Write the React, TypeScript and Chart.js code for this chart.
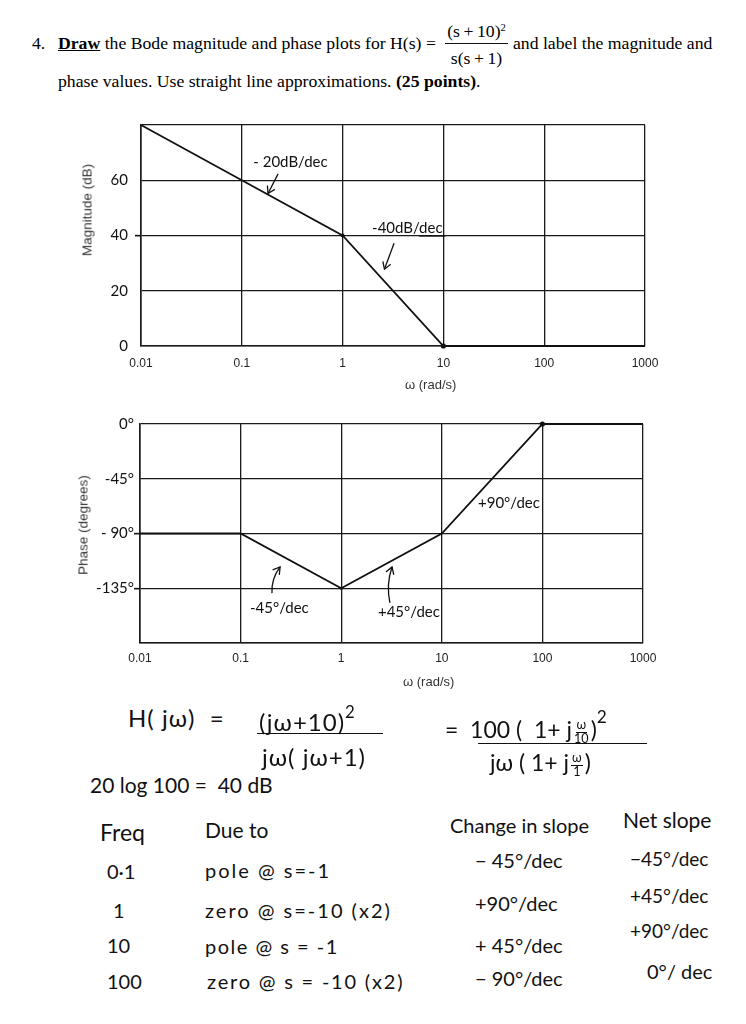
import React, { useEffect, useRef } from 'react';
import { Chart, registerables } from 'chart.js';

Chart.register(...registerables);

// ---- data ----
const freqTicks = [0.01, 0.1, 1, 10, 100, 1000];
const freqTickLabels = ['0.01', '0.1', '1', '10', '100', '1000'];

const magFreq = [0.01, 0.1, 1, 10, 1000];
const magDb = [80, 60, 40, 0, 0];
const magPointRadius = [0, 0, 2, 2.6, 0];
const magTicks = [0, 20, 40, 60, 80];
const magTickLabels = ['0', '20', '40', '60', ''];
const magStubs = [40];

const phaseFreq = [0.01, 0.1, 1, 10, 100, 1000];
const phaseDeg = [-90, -90, -135, -90, 0, 0];
const phasePointRadius = [0, 0, 1.6, 0, 2.6, 0];
const phaseTicks = [-180, -135, -90, -45, 0];
const phaseTickLabels = ['', '-135°', '- 90°', '-45°', '0°'];
const phaseStubs = [-90, -135];

const HW = "'Lato', 'Noto Sans', sans-serif";
const SERIF = "'Liberation Serif', 'Times New Roman', serif";
const SANS = "'Liberation Sans', Arial, sans-serif";
const INK = '#111';

type Note = { text: string; x: number; y: number; underlineLast?: string };
type Arrow = { from: [number, number]; to: [number, number]; bend?: number };

function makeNotesPlugin(notes: Note[], arrows: Arrow[]) {
  return {
    id: 'notes',
    afterDatasetsDraw(chart: any) {
      const { ctx, scales } = chart;
      const x = scales.x;
      const y = scales.y;
      ctx.save();
      ctx.fillStyle = INK;
      ctx.strokeStyle = INK;
      ctx.font = `15px ${HW}`;
      ctx.textBaseline = 'middle';
      ctx.textAlign = 'left';
      ctx.lineWidth = 1.2;
      for (const n of notes) {
        const px = x.getPixelForValue(n.x);
        const py = y.getPixelForValue(n.y);
        ctx.fillText(n.text, px, py);
        if (n.underlineLast) {
          const full = ctx.measureText(n.text).width;
          const part = ctx.measureText(n.underlineLast).width;
          ctx.beginPath();
          ctx.moveTo(px + full - part, py + 8);
          ctx.lineTo(px + full + 3, py + 8);
          ctx.stroke();
        }
      }
      ctx.lineWidth = 1.3;
      for (const a of arrows) {
        const x0 = x.getPixelForValue(a.from[0]);
        const y0 = y.getPixelForValue(a.from[1]);
        const x1 = x.getPixelForValue(a.to[0]);
        const y1 = y.getPixelForValue(a.to[1]);
        const dx = x1 - x0;
        const dy = y1 - y0;
        const len = Math.hypot(dx, dy) || 1;
        const b = a.bend || 0;
        const cx = (x0 + x1) / 2 - (dy / len) * b;
        const cy = (y0 + y1) / 2 + (dx / len) * b;
        ctx.beginPath();
        ctx.moveTo(x0, y0);
        ctx.quadraticCurveTo(cx, cy, x1, y1);
        ctx.stroke();
        const ang = Math.atan2(y1 - cy, x1 - cx);
        const h = 8;
        ctx.beginPath();
        ctx.moveTo(x1 - h * Math.cos(ang - 0.55), y1 - h * Math.sin(ang - 0.55));
        ctx.lineTo(x1, y1);
        ctx.lineTo(x1 - h * Math.cos(ang + 0.55), y1 - h * Math.sin(ang + 0.55));
        ctx.stroke();
      }
      ctx.restore();
    },
  };
}

type BodeProps = {
  top: number;
  height: number;
  padTop: number;
  padRight: number;
  yWidth: number;
  xHeight: number;
  xPad: number;
  yPad: number;
  freq: number[];
  vals: number[];
  radii: number[];
  yMin: number;
  yMax: number;
  yTicks: number[];
  yTickLabels: string[];
  stubs: number[];
  notes: Note[];
  arrows: Arrow[];
};

function BodeChart(p: BodeProps) {
  const ref = useRef<HTMLCanvasElement | null>(null);
  useEffect(() => {
    if (!ref.current) return;
    const chart = new Chart(ref.current, {
      type: 'line',
      data: {
        datasets: [
          {
            data: p.freq.map((f, i) => ({ x: f, y: p.vals[i] })),
            borderColor: INK,
            borderWidth: 1.8,
            pointRadius: p.radii,
            pointBackgroundColor: INK,
            pointBorderWidth: 0,
            tension: 0,
            clip: false as any,
          },
        ],
      },
      options: {
        animation: false,
        responsive: false,
        devicePixelRatio: 1,
        layout: { padding: { top: p.padTop, right: p.padRight, left: 0, bottom: 0 } },
        plugins: {
          legend: { display: false },
          tooltip: { enabled: false },
        },
        scales: {
          x: {
            type: 'logarithmic',
            min: 0.01,
            max: 1000,
            afterBuildTicks: (scale: any) => {
              scale.ticks = freqTicks.map((v) => ({ value: v }));
            },
            afterFit: (scale: any) => {
              scale.height = p.xHeight;
            },
            ticks: {
              autoSkip: false,
              maxRotation: 0,
              padding: p.xPad,
              color: '#222',
              font: { family: SANS, size: 12 },
              callback: (_v: any, i: number) => freqTickLabels[i],
            },
            grid: { color: '#1a1a1a', lineWidth: 1.3, drawTicks: false },
            border: { display: true, color: '#1a1a1a', width: 1.6 },
          },
          y: {
            type: 'linear',
            min: p.yMin,
            max: p.yMax,
            afterBuildTicks: (scale: any) => {
              scale.ticks = p.yTicks.map((v) => ({ value: v }));
            },
            afterFit: (scale: any) => {
              scale.width = p.yWidth;
            },
            ticks: {
              padding: p.yPad,
              color: INK,
              font: { family: HW, size: 15 },
              callback: (_v: any, i: number) => p.yTickLabels[i],
            },
            grid: {
              color: '#1a1a1a',
              lineWidth: 1.3,
              drawTicks: true,
              tickLength: 6,
              tickWidth: 1.6,
              tickColor: (ctx: any) =>
                ctx.tick && p.stubs.includes(ctx.tick.value) ? INK : 'rgba(0,0,0,0)',
            },
            border: { display: true, color: '#1a1a1a', width: 1.6 },
          },
        },
      } as any,
      plugins: [makeNotesPlugin(p.notes, p.arrows)],
    });
    return () => chart.destroy();
  }, []);
  return (
    <canvas
      ref={ref}
      width={746}
      height={p.height}
      style={{ position: 'absolute', left: 0, top: p.top, width: 746, height: p.height }}
    />
  );
}

function Serif({ x, base, size = 17.7, children, style }: any) {
  return (
    <div
      style={{
        position: 'absolute',
        left: x,
        top: base - size * 0.8375,
        fontFamily: SERIF,
        fontSize: size,
        lineHeight: 1,
        whiteSpace: 'nowrap',
        color: '#000',
        ...style,
      }}
    >
      {children}
    </div>
  );
}

function Hand({ x, cy, size = 20, children, style }: any) {
  return (
    <div
      style={{
        position: 'absolute',
        left: x,
        top: cy - size * 0.6,
        fontFamily: HW,
        fontSize: size,
        lineHeight: 1,
        whiteSpace: 'nowrap',
        color: INK,
        ...style,
      }}
    >
      {children}
    </div>
  );
}

function SmallFrac({ num, den }: any) {
  return (
    <span
      style={{
        display: 'inline-flex',
        flexDirection: 'column',
        alignItems: 'center',
        verticalAlign: 'middle',
        fontSize: '0.55em',
        lineHeight: 1,
        margin: '0 2px',
      }}
    >
      <span style={{ borderBottom: '1.2px solid #111', padding: '0 1px' }}>{num}</span>
      <span>{den}</span>
    </span>
  );
}

function HLine({ x1, x2, y, w = 1.4 }: any) {
  return (
    <div style={{ position: 'absolute', left: x1, top: y, width: x2 - x1, height: w, background: INK }} />
  );
}

function AxisTitle({ cx, cy, children }: any) {
  return (
    <div
      style={{
        position: 'absolute',
        left: cx,
        top: cy,
        transform: 'translate(-50%, -50%) rotate(-90deg)',
        fontFamily: SANS,
        fontSize: 13.5,
        color: '#333',
        whiteSpace: 'nowrap',
      }}
    >
      {children}
    </div>
  );
}

function XTitle({ x, cy }: any) {
  return (
    <div
      style={{
        position: 'absolute',
        left: x,
        top: cy - 8,
        fontFamily: SANS,
        fontSize: 13,
        lineHeight: '16px',
        color: '#333',
        whiteSpace: 'nowrap',
      }}
    >
      ω (rad/s)
    </div>
  );
}

export default function App() {
  return (
    <div
      style={{
        position: 'absolute',
        left: 0,
        top: 0,
        width: 746,
        height: 1024,
        background: '#fff',
        overflow: 'hidden',
      }}
    >
      {/* Problem statement */}
      <Serif x={32} base={50}>4.</Serif>
      <Serif x={58} base={50}>
        <b style={{ textDecoration: 'underline' }}>Draw</b> the Bode magnitude and phase plots for H(s) =
      </Serif>
      <Serif x={445} base={38} style={{ width: 63, textAlign: 'center' }}>
        (s&#8201;+&#8201;10)<sup style={{ fontSize: '0.6em', verticalAlign: '0.6em' }}>2</sup>
      </Serif>
      <HLine x1={445} x2={508} y={43} w={1} />
      <Serif x={445} base={65} style={{ width: 63, textAlign: 'center' }}>
        s(s&#8201;+&#8201;1)
      </Serif>
      <Serif x={513} base={50}>and label the magnitude and</Serif>
      <Serif x={58} base={88}>
        phase values. Use straight line approximations. <b>(25 points)</b>.
      </Serif>

      {/* Magnitude plot */}
      <BodeChart
        top={100}
        height={300}
        padTop={25}
        padRight={101}
        yWidth={141}
        xHeight={54}
        xPad={10}
        yPad={7}
        freq={magFreq}
        vals={magDb}
        radii={magPointRadius}
        yMin={0}
        yMax={80}
        yTicks={magTicks}
        yTickLabels={magTickLabels}
        stubs={magStubs}
        notes={[
          { text: '- 20dB/dec', x: 0.13, y: 66.5 },
          { text: '-40dB/dec', x: 1.96, y: 42.7, underlineLast: 'dec' },
        ]}
        arrows={[
          { from: [0.229, 62.3], to: [0.182, 55.2] },
          { from: [3.24, 37.2], to: [2.6, 27.8] },
        ]}
      />
      <AxisTitle cx={87} cy={210}>Magnitude (dB)</AxisTitle>
      <XTitle x={405} cy={385} />

      {/* Phase plot */}
      <BodeChart
        top={395}
        height={300}
        padTop={29}
        padRight={103}
        yWidth={140}
        xHeight={52}
        xPad={8}
        yPad={0}
        freq={phaseFreq}
        vals={phaseDeg}
        radii={phasePointRadius}
        yMin={-180}
        yMax={0}
        yTicks={phaseTicks}
        yTickLabels={phaseTickLabels}
        stubs={phaseStubs}
        notes={[
          { text: '-45°/dec', x: 0.124, y: -151 },
          { text: '+45°/dec', x: 2.32, y: -154.5 },
          { text: '+90°/dec', x: 22.9, y: -65 },
        ]}
        arrows={[
          { from: [0.205, -139], to: [0.247, -117.5], bend: -5 },
          { from: [3.05, -147], to: [3.2, -117.5], bend: -5 },
        ]}
      />
      <AxisTitle cx={83} cy={525}>Phase (degrees)</AxisTitle>
      <XTitle x={403} cy={682} />

      {/* Handwritten working */}
      <Hand x={128} cy={720} size={24} style={{ letterSpacing: 1 }}>H( jω) &nbsp;=</Hand>
      <Hand x={259} cy={718} size={24} style={{ letterSpacing: 1 }}>
        (jω+10)<sup style={{ fontSize: '0.7em', verticalAlign: '0.75em' }}>2</sup>
      </Hand>
      <HLine x1={257} x2={383} y={733} />
      <Hand x={262} cy={759} size={24} style={{ letterSpacing: 1 }}>jω( jω+1)</Hand>
      <Hand x={90} cy={787} size={21}>20 log 100 = &nbsp;40 dB</Hand>

      <Hand x={445} cy={722} size={23}>
        = &nbsp;100 ( &nbsp;1+ j<SmallFrac num="ω" den="10" />)
        <sup style={{ fontSize: '0.75em', verticalAlign: '0.85em' }}>2</sup>
      </Hand>
      <HLine x1={478} x2={647} y={743} />
      <Hand x={490} cy={765} size={23}>
        jω ( 1+ j<SmallFrac num="ω" den="1" />)
      </Hand>

      <Hand x={100} cy={835} size={23}>Freq</Hand>
      <Hand x={205} cy={832} size={21}>Due to</Hand>
      <Hand x={450} cy={827} size={20}>Change in slope</Hand>
      <Hand x={623} cy={822} size={21}>Net slope</Hand>

      <Hand x={107} cy={873} size={20}>0·1</Hand>
      <Hand x={205} cy={872} size={20} style={{ letterSpacing: 2 }}>pole @ s=-1</Hand>
      <Hand x={475} cy={862} size={20}>− 45°/dec</Hand>
      <Hand x={630} cy={860} size={19}>−45°/dec</Hand>

      <Hand x={113} cy={912} size={20}>1</Hand>
      <Hand x={205} cy={912} size={20} style={{ letterSpacing: 2 }}>zero @ s=-10 (x2)</Hand>
      <Hand x={475} cy={905} size={20}>+90°/dec</Hand>
      <Hand x={630} cy={897} size={19}>+45°/dec</Hand>

      <Hand x={107} cy={947} size={20}>10</Hand>
      <Hand x={205} cy={948} size={20} style={{ letterSpacing: 1.5 }}>pole @ s = -1</Hand>
      <Hand x={475} cy={947} size={20}>+ 45°/dec</Hand>
      <Hand x={630} cy={932} size={19}>+90°/dec</Hand>

      <Hand x={107} cy={983} size={20}>100</Hand>
      <Hand x={207} cy={983} size={20} style={{ letterSpacing: 1.8 }}>zero @ s = -10 (x2)</Hand>
      <Hand x={475} cy={980} size={20}>− 90°/dec</Hand>
      <Hand x={647} cy={973} size={20}>0°/ dec</Hand>
    </div>
  );
}
